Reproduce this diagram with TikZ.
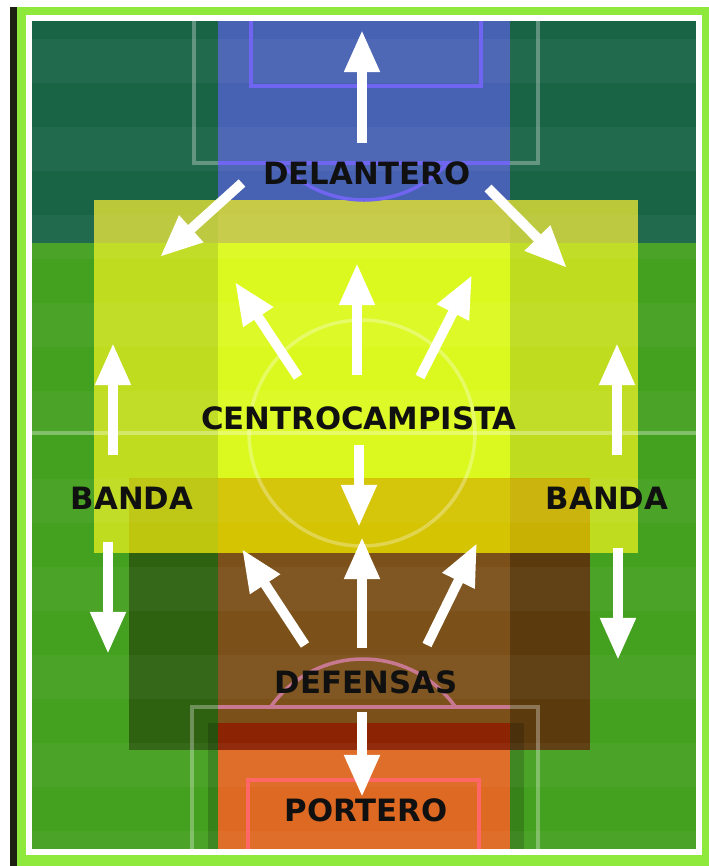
\documentclass[tikz,border=0pt]{standalone}
\usepackage{fontspec}
\setmainfont{DejaVu Sans}
\usetikzlibrary{arrows.meta}

\definecolor{edgedark}{HTML}{1E2012}
\definecolor{limeframe}{HTML}{8FE83C}
\definecolor{grass}{HTML}{44A11F}
\definecolor{tealzone}{HTML}{1A6446}
\definecolor{bluezone}{HTML}{4862B3}
\definecolor{yelside}{HTML}{BFDC1F}
\definecolor{yelmid}{HTML}{DCF91F}
\definecolor{oliveside}{HTML}{BBC83A}
\definecolor{olivemid}{HTML}{C6CA46}
\definecolor{ovleft}{HTML}{BEC60E}
\definecolor{ovmid}{HTML}{D5C402}
\definecolor{ovright}{HTML}{C9B104}
\definecolor{defleft}{HTML}{2E6211}
\definecolor{defmid}{HTML}{7B5119}
\definecolor{defright}{HTML}{5B3B0E}
\definecolor{porterodark}{HTML}{8C2404}
\definecolor{porterozone}{HTML}{DD6922}
\definecolor{goalpurple}{HTML}{6F65F0}
\definecolor{goalpink}{HTML}{FF6767}
\definecolor{arcmauve}{HTML}{C87890}
\definecolor{labelblack}{HTML}{101010}

\begin{document}
\begin{tikzpicture}[x=0.02cm,y=-0.02cm,
  move/.style={white,line width=5.6pt,-{Triangle[width=19pt,length=24pt]}},
  zonelabel/.style={font=\bfseries\fontsize{17.5}{20}\selectfont,text=labelblack,inner sep=0pt},
  pitchline/.style={white,opacity=0.3,line width=2pt}]
  \useasboundingbox (0,0) rectangle (709,866);

  % Background and frame
  \fill[white] (0,0) rectangle (709,866);
  \fill[edgedark] (10,7) rectangle (17,866);
  \fill[limeframe] (17,7) rectangle (709,866);
  \fill[grass] (29,18) rectangle (699,852);

  % Delantero zone
  \fill[tealzone] (29,18) rectangle (699,243);
  \fill[bluezone] (218,18) rectangle (510,200);

  % Centrocampista zone
  \fill[yelside] (94,200) rectangle (638,553);
  \fill[yelmid] (218,200) rectangle (510,553);
  \fill[oliveside] (94,200) rectangle (638,243);
  \fill[olivemid] (218,200) rectangle (510,243);

  % Defensas zone
  \fill[defleft] (129,553) rectangle (218,750);
  \fill[defmid] (218,553) rectangle (510,750);
  \fill[defright] (510,553) rectangle (590,750);
  \fill[ovleft] (129,478) rectangle (218,553);
  \fill[ovmid] (218,478) rectangle (510,553);
  \fill[ovright] (510,478) rectangle (590,553);

  % Portero zone
  \fill[black,opacity=0.18] (208,723) rectangle (524,852);
  \fill[porterodark] (218,723) rectangle (510,750);
  \fill[porterozone] (218,750) rectangle (510,852);

  % Grass stripes
  \begin{scope}
    \clip (29,18) rectangle (699,852);
    \foreach \y in {39,127,...,831}
      \fill[white,opacity=0.04] (29,\y) rectangle (699,\y+44);
  \end{scope}

  % Pitch markings
  \draw[pitchline] (29,433) -- (699,433);
  \draw[pitchline] (362,433) circle[radius=113];
  \draw[pitchline] (194,18) -- (194,163) -- (538,163) -- (538,18);
  \draw[pitchline] (192,852) -- (192,707) -- (538,707) -- (538,852);
  \draw[goalpurple,line width=2pt] (251,18) -- (251,86) -- (481,86) -- (481,18);
  \draw[goalpurple,line width=2pt] (218,163) -- (510,163);
  \begin{scope}
    \clip (218,163) rectangle (510,243);
    \draw[goalpurple,line width=2pt] (364,87) circle[radius=113];
  \end{scope}
  \draw[goalpink,line width=2pt] (248,852) -- (248,780) -- (479,780) -- (479,852);
  \draw[arcmauve,line width=2pt] (218,707) -- (510,707);
  \begin{scope}
    \clip (218,600) rectangle (510,707);
    \draw[arcmauve,line width=2pt] (363,772) circle[radius=113];
  \end{scope}
  \draw[white,line width=3pt] (29,18) rectangle (699,852);

  % Labels
  \node[zonelabel] (delantero) at (367,173) {DELANTERO};
  \node[zonelabel] (centro) at (359,418) {CENTROCAMPISTA};
  \node[zonelabel] (bandaL) at (132,498) {BANDA};
  \node[zonelabel] (bandaR) at (607,498) {BANDA};
  \node[zonelabel] (defensas) at (366,682) {DEFENSAS};
  \node[zonelabel] (portero) at (366,810) {PORTERO};

  % Arrow ends
  \coordinate (del-up-a) at (362,143);  \coordinate (del-up-b) at (362,30);
  \coordinate (del-l-a) at (242,183);   \coordinate (del-l-b) at (160,257);
  \coordinate (del-r-a) at (488,188);   \coordinate (del-r-b) at (567,268);
  \coordinate (cen-up-a) at (357,375);  \coordinate (cen-up-b) at (357,263);
  \coordinate (cen-l-a) at (298,377);   \coordinate (cen-l-b) at (235,282);
  \coordinate (cen-r-a) at (420,377);   \coordinate (cen-r-b) at (472,275);
  \coordinate (cen-dn-a) at (359,445);  \coordinate (cen-dn-b) at (359,527);
  \coordinate (banL-up-a) at (113,455); \coordinate (banL-up-b) at (113,343);
  \coordinate (banR-up-a) at (617,455); \coordinate (banR-up-b) at (617,343);
  \coordinate (banL-dn-a) at (108,542); \coordinate (banL-dn-b) at (108,654);
  \coordinate (banR-dn-a) at (618,548); \coordinate (banR-dn-b) at (618,660);
  \coordinate (def-up-a) at (362,648);  \coordinate (def-up-b) at (362,537);
  \coordinate (def-l-a) at (305,645);   \coordinate (def-l-b) at (242,549);
  \coordinate (def-r-a) at (427,645);   \coordinate (def-r-b) at (477,543);
  \coordinate (def-dn-a) at (362,712);  \coordinate (def-dn-b) at (362,797);

  % Arrows
  \foreach \a in {del-up,del-l,del-r,cen-up,cen-l,cen-r,cen-dn,banL-up,banR-up,banL-dn,banR-dn,def-up,def-l,def-r,def-dn}
    \draw[move] (\a-a) -- (\a-b);
\end{tikzpicture}
\end{document}
